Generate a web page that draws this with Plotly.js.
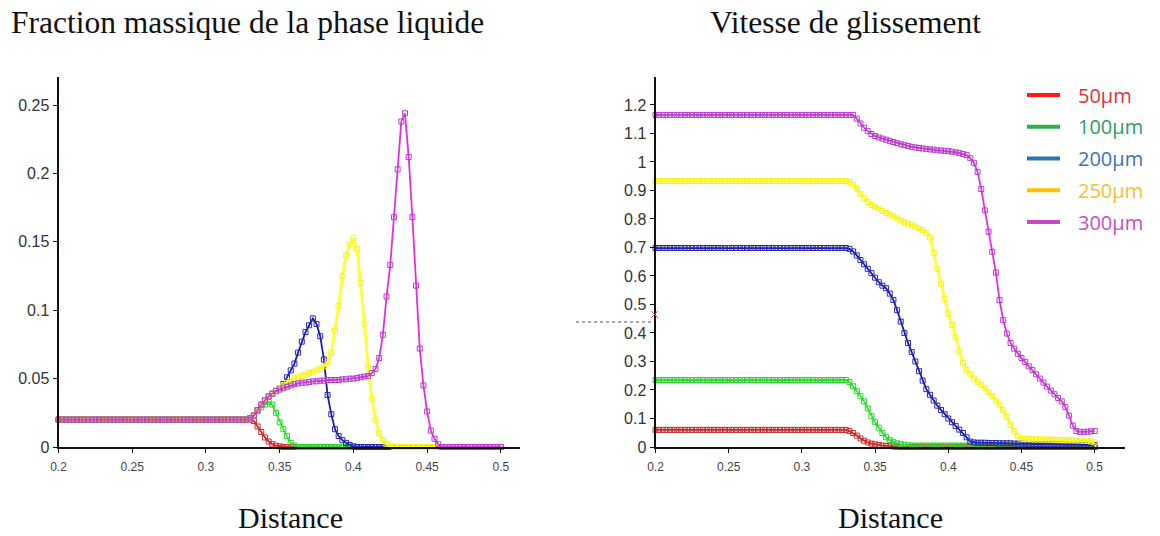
<!DOCTYPE html>
<html>
<head>
<meta charset="utf-8">
<script src="https://cdn.plot.ly/plotly-3.0.1.min.js"></script>
<style>html,body{margin:0;padding:0;background:#fff;}#chart{width:1160px;height:536px;}</style>
</head>
<body>
<div id="chart"></div>
<script>
// ---------- DATA ----------
const seriesNames = ['50µm', '100µm', '200µm', '250µm', '300µm'];

const distance = [
  0.2, 0.2025, 0.205, 0.2075, 0.21, 0.2125, 0.215, 0.2175, 0.22, 0.2225,
  0.225, 0.2275, 0.23, 0.2325, 0.235, 0.2375, 0.24, 0.2425, 0.245, 0.2475,
  0.25, 0.2525, 0.255, 0.2575, 0.26, 0.2625, 0.265, 0.2675, 0.27, 0.2725,
  0.275, 0.2775, 0.28, 0.2825, 0.285, 0.2875, 0.29, 0.2925, 0.295, 0.2975,
  0.3, 0.3025, 0.305, 0.3075, 0.31, 0.3125, 0.315, 0.3175, 0.32, 0.3225,
  0.325, 0.3275, 0.33, 0.3325, 0.335, 0.3375, 0.34, 0.3425, 0.345, 0.3475,
  0.35, 0.3525, 0.355, 0.3575, 0.36, 0.3625, 0.365, 0.3675, 0.37, 0.3725,
  0.375, 0.3775, 0.38, 0.3825, 0.385, 0.3875, 0.39, 0.3925, 0.395, 0.3975,
  0.4, 0.4025, 0.405, 0.4075, 0.41, 0.4125, 0.415, 0.4175, 0.42, 0.4225,
  0.425, 0.4275, 0.43, 0.4325, 0.435, 0.4375, 0.44, 0.4425, 0.445, 0.4475,
  0.45, 0.4525, 0.455, 0.4575, 0.46, 0.4625, 0.465, 0.4675, 0.47, 0.4725,
  0.475, 0.4775, 0.48, 0.4825, 0.485, 0.4875, 0.49, 0.4925, 0.495, 0.4975,
  0.5
];

// Fraction massique de la phase liquide
const fraction50 = [
  0.02,0.02,0.02,0.02,0.02,0.02,0.02,0.02,0.02,0.02,
  0.02,0.02,0.02,0.02,0.02,0.02,0.02,0.02,0.02,0.02,
  0.02,0.02,0.02,0.02,0.02,0.02,0.02,0.02,0.02,0.02,
  0.02,0.02,0.02,0.02,0.02,0.02,0.02,0.02,0.02,0.02,
  0.02,0.02,0.02,0.02,0.02,0.02,0.02,0.02,0.02,0.02,
  0.02,0.02,0.02,0.019,0.015,0.011,0.007,0.004,0.002,0.001,
  0.0005,0,0,0,0,0,0,0,0,0,
  0,0,0,0,0,0,0,0,0,0,
  0,0,0,0,0,0,0,0,0,0,
  0,0,0,0,0,0,0,0,0,0,
  0,0,0,0,0,0,0,0,0,0,
  0,0,0,0,0,0,0,0,0,0,
  0
];
const fraction100 = [
  0.02,0.02,0.02,0.02,0.02,0.02,0.02,0.02,0.02,0.02,
  0.02,0.02,0.02,0.02,0.02,0.02,0.02,0.02,0.02,0.02,
  0.02,0.02,0.02,0.02,0.02,0.02,0.02,0.02,0.02,0.02,
  0.02,0.02,0.02,0.02,0.02,0.02,0.02,0.02,0.02,0.02,
  0.02,0.02,0.02,0.02,0.02,0.02,0.02,0.02,0.02,0.02,
  0.02,0.02,0.021,0.023,0.026,0.029,0.031,0.033,0.031,0.025,
  0.018,0.013,0.008,0.003,0.001,0,0,0,0,0,
  0,0,0,0,0,0,0,0,0,0,
  0,0,0,0,0,0,0,0,0,0,
  0,0,0,0,0,0,0,0,0,0,
  0,0,0,0,0,0,0,0,0,0,
  0,0,0,0,0,0,0,0,0,0,
  0
];
const fraction200 = [
  0.02,0.02,0.02,0.02,0.02,0.02,0.02,0.02,0.02,0.02,
  0.02,0.02,0.02,0.02,0.02,0.02,0.02,0.02,0.02,0.02,
  0.02,0.02,0.02,0.02,0.02,0.02,0.02,0.02,0.02,0.02,
  0.02,0.02,0.02,0.02,0.02,0.02,0.02,0.02,0.02,0.02,
  0.02,0.02,0.02,0.02,0.02,0.02,0.02,0.02,0.02,0.02,
  0.02,0.02,0.021,0.023,0.027,0.031,0.034,0.037,0.039,0.041,
  0.043,0.046,0.051,0.056,0.061,0.069,0.077,0.084,0.089,0.094,
  0.09,0.081,0.064,0.038,0.024,0.013,0.008,0.005,0.003,0.0015,
  0.0005,0,0,0,0,0,0,0,0,0,
  0,0,0,0,0,0,0,0,0,0,
  0,0,0,0,0,0,0,0,0,0,
  0,0,0,0,0,0,0,0,0,0,
  0
];
const fraction250 = [
  0.02,0.02,0.02,0.02,0.02,0.02,0.02,0.02,0.02,0.02,
  0.02,0.02,0.02,0.02,0.02,0.02,0.02,0.02,0.02,0.02,
  0.02,0.02,0.02,0.02,0.02,0.02,0.02,0.02,0.02,0.02,
  0.02,0.02,0.02,0.02,0.02,0.02,0.02,0.02,0.02,0.02,
  0.02,0.02,0.02,0.02,0.02,0.02,0.02,0.02,0.02,0.02,
  0.02,0.02,0.021,0.023,0.027,0.031,0.034,0.037,0.039,0.041,
  0.043,0.045,0.047,0.048,0.05,0.051,0.052,0.053,0.054,0.055,
  0.056,0.057,0.059,0.062,0.069,0.085,0.103,0.125,0.14,0.148,
  0.153,0.145,0.12,0.09,0.058,0.035,0.02,0.01,0.005,0.002,
  0.001,0,0,0,0,0,0,0,0,0,
  0,0,0,0,0,0,0,0,0,0,
  0,0,0,0,0,0,0,0,0,0,
  0
];
const fraction300 = [
  0.02,0.02,0.02,0.02,0.02,0.02,0.02,0.02,0.02,0.02,
  0.02,0.02,0.02,0.02,0.02,0.02,0.02,0.02,0.02,0.02,
  0.02,0.02,0.02,0.02,0.02,0.02,0.02,0.02,0.02,0.02,
  0.02,0.02,0.02,0.02,0.02,0.02,0.02,0.02,0.02,0.02,
  0.02,0.02,0.02,0.02,0.02,0.02,0.02,0.02,0.02,0.02,
  0.02,0.02,0.021,0.023,0.027,0.031,0.034,0.037,0.039,0.041,
  0.042,0.043,0.044,0.045,0.046,0.0465,0.047,0.047,0.0475,0.048,
  0.048,0.0485,0.0485,0.049,0.049,0.049,0.049,0.0495,0.0495,0.05,
  0.05,0.0505,0.051,0.0515,0.052,0.054,0.057,0.065,0.082,0.11,
  0.133,0.168,0.203,0.238,0.244,0.212,0.168,0.118,0.072,0.045,
  0.026,0.012,0.006,0.002,0,0,0,0,0,0,
  0,0,0,0,0,0,0,0,0,0,
  0
];

// Vitesse de glissement
const vitesse50 = [
  0.06,0.06,0.06,0.06,0.06,0.06,0.06,0.06,0.06,0.06,
  0.06,0.06,0.06,0.06,0.06,0.06,0.06,0.06,0.06,0.06,
  0.06,0.06,0.06,0.06,0.06,0.06,0.06,0.06,0.06,0.06,
  0.06,0.06,0.06,0.06,0.06,0.06,0.06,0.06,0.06,0.06,
  0.06,0.06,0.06,0.06,0.06,0.06,0.06,0.06,0.06,0.06,
  0.06,0.06,0.06,0.056,0.049,0.04,0.03,0.022,0.016,0.012,
  0.009,0.007,0.005,0.004,0.003,0.002,0.001,0,0,0,
  0,0,0,0,0,0,0,0,0,0,
  0,0,0,0,0,0,0,0,0,0,
  0,0,0,0,0,0,0,0,0,0,
  0,0,0,0,0,0,0,0,0,0,
  0,0,0,0,0,0,0,0,0,0,
  0
];
const vitesse100 = [
  0.235,0.235,0.235,0.235,0.235,0.235,0.235,0.235,0.235,0.235,
  0.235,0.235,0.235,0.235,0.235,0.235,0.235,0.235,0.235,0.235,
  0.235,0.235,0.235,0.235,0.235,0.235,0.235,0.235,0.235,0.235,
  0.235,0.235,0.235,0.235,0.235,0.235,0.235,0.235,0.235,0.235,
  0.235,0.235,0.235,0.235,0.235,0.235,0.235,0.235,0.235,0.235,
  0.235,0.235,0.235,0.228,0.213,0.196,0.178,0.16,0.135,0.108,
  0.087,0.068,0.049,0.034,0.024,0.018,0.013,0.01,0.008,0.006,
  0.005,0.005,0.005,0.005,0.005,0.005,0.005,0.005,0.005,0.005,
  0.005,0.005,0.005,0.005,0.005,0.005,0.005,0.005,0.005,0.005,
  0.005,0.005,0.005,0.005,0.005,0.005,0.005,0.005,0.005,0.005,
  0.005,0.005,0.005,0.005,0.005,0.005,0.005,0.005,0.005,0.005,
  0.005,0.005,0.005,0.005,0.005,0.005,0.005,0.005,0.005,0.005,
  0.005
];
const vitesse200 = [
  0.698,0.698,0.698,0.698,0.698,0.698,0.698,0.698,0.698,0.698,
  0.698,0.698,0.698,0.698,0.698,0.698,0.698,0.698,0.698,0.698,
  0.698,0.698,0.698,0.698,0.698,0.698,0.698,0.698,0.698,0.698,
  0.698,0.698,0.698,0.698,0.698,0.698,0.698,0.698,0.698,0.698,
  0.698,0.698,0.698,0.698,0.698,0.698,0.698,0.698,0.698,0.698,
  0.698,0.698,0.698,0.695,0.686,0.672,0.656,0.641,0.625,0.61,
  0.594,0.578,0.566,0.557,0.538,0.516,0.48,0.44,0.4,0.365,
  0.333,0.3,0.266,0.233,0.203,0.183,0.163,0.145,0.13,0.115,
  0.1,0.087,0.074,0.061,0.049,0.034,0.019,0.016,0.015,0.015,
  0.015,0.014,0.014,0.014,0.013,0.013,0.013,0.013,0.012,0.012,
  0.012,0.012,0.011,0.011,0.011,0.011,0.01,0.01,0.01,0.01,
  0.009,0.009,0.009,0.009,0.008,0.008,0.008,0.008,0.007,0.007,
  0.007
];
const vitesse250 = [
  0.933,0.933,0.933,0.933,0.933,0.933,0.933,0.933,0.933,0.933,
  0.933,0.933,0.933,0.933,0.933,0.933,0.933,0.933,0.933,0.933,
  0.933,0.933,0.933,0.933,0.933,0.933,0.933,0.933,0.933,0.933,
  0.933,0.933,0.933,0.933,0.933,0.933,0.933,0.933,0.933,0.933,
  0.933,0.933,0.933,0.933,0.933,0.933,0.933,0.933,0.933,0.933,
  0.933,0.933,0.933,0.93,0.922,0.905,0.888,0.874,0.86,0.849,
  0.843,0.836,0.828,0.821,0.815,0.809,0.802,0.795,0.789,0.783,
  0.778,0.773,0.768,0.761,0.752,0.735,0.68,0.625,0.573,0.52,
  0.468,0.428,0.385,0.335,0.295,0.27,0.255,0.24,0.227,0.218,
  0.206,0.193,0.178,0.161,0.148,0.13,0.105,0.078,0.055,0.038,
  0.029,0.028,0.028,0.027,0.027,0.027,0.026,0.026,0.026,0.025,
  0.025,0.025,0.024,0.024,0.024,0.023,0.023,0.022,0.021,0.019,
  0.016
];
const vitesse300 = [
  1.165,1.165,1.165,1.165,1.165,1.165,1.165,1.165,1.165,1.165,
  1.165,1.165,1.165,1.165,1.165,1.165,1.165,1.165,1.165,1.165,
  1.165,1.165,1.165,1.165,1.165,1.165,1.165,1.165,1.165,1.165,
  1.165,1.165,1.165,1.165,1.165,1.165,1.165,1.165,1.165,1.165,
  1.165,1.165,1.165,1.165,1.165,1.165,1.165,1.165,1.165,1.165,
  1.165,1.165,1.165,1.165,1.165,1.152,1.135,1.12,1.108,1.098,
  1.091,1.086,1.082,1.078,1.074,1.07,1.066,1.062,1.059,1.056,
  1.053,1.051,1.049,1.047,1.046,1.044,1.043,1.041,1.04,1.039,
  1.038,1.036,1.034,1.031,1.028,1.024,1.013,0.997,0.965,0.905,
  0.83,0.755,0.685,0.612,0.515,0.445,0.398,0.365,0.345,0.327,
  0.312,0.298,0.283,0.27,0.255,0.24,0.226,0.212,0.198,0.185,
  0.172,0.16,0.14,0.11,0.075,0.056,0.053,0.053,0.054,0.055,
  0.056
];

const xTickVals = [0.2, 0.25, 0.3, 0.35, 0.4, 0.45, 0.5];
const xTickText = ['0.2', '0.25', '0.3', '0.35', '0.4', '0.45', '0.5'];
const fracTickVals = [0, 0.05, 0.1, 0.15, 0.2, 0.25];
const fracTickText = ['0', '0.05', '0.1', '0.15', '0.2', '0.25'];
const vitTickVals = [0, 0.1, 0.2, 0.3, 0.4, 0.5, 0.6, 0.7, 0.8, 0.9, 1, 1.1, 1.2];
const vitTickText = ['0', '0.1', '0.2', '0.3', '0.4', '0.5', '0.6', '0.7', '0.8', '0.9', '1', '1.1', '1.2'];

const titleLeft = 'Fraction massique de la phase liquide';
const titleRight = 'Vitesse de glissement';
const xTitle = 'Distance';

// ---------- STYLE ----------
const lineColors = ['#d42424', '#33e633', '#1c1ca8', '#ffff33', '#e030e0'];
const markerColors = ['#c03030', '#30d030', '#2a2ab8', '#f2f22a', '#b040c8'];
const legendLineColors = ['#ff1a1a', '#2db04c', '#2e72b4', '#ffc000', '#c848c0'];
const legendTextColors = ['#e0303a', '#2aa060', '#3a74b4', '#f0c030', '#c050c0'];

const W = 1160, H = 536;
const px = v => v / W;
const py = v => 1 - v / H;

const fracSeries = [fraction50, fraction100, fraction200, fraction250, fraction300];
const vitSeries = [vitesse50, vitesse100, vitesse200, vitesse250, vitesse300];

const traces = [];
function addTraces(list, xa, ya) {
  list.forEach((vals, i) => {
    traces.push({
      type: 'scatter', mode: 'lines+markers',
      x: distance, y: vals, name: seriesNames[i],
      xaxis: xa, yaxis: ya,
      line: {color: lineColors[i], width: i === 3 ? 2.8 : 1.8},
      marker: {symbol: 'square-open', size: 5, color: markerColors[i], line: {width: 1, color: markerColors[i]}},
      showlegend: false, cliponaxis: false
    });
  });
}
addTraces(fracSeries, 'x', 'y');
addTraces(vitSeries, 'x2', 'y2');

const tickFontX = {family: 'Liberation Sans, Arial, sans-serif', size: 12, color: '#444'};
const tickFontY = {family: 'Liberation Sans, Arial, sans-serif', size: 16, color: '#333'};
const serif = 'Liberation Serif, Times New Roman, serif';

const axisCommon = {
  showgrid: false, zeroline: false, showline: true, linecolor: '#111', linewidth: 2,
  ticks: 'outside', ticklen: 4, tickcolor: '#111', tickwidth: 1, fixedrange: true
};

const yDom = [py(447), py(77)];

const layout = {
  width: W, height: H,
  margin: {l: 0, r: 0, t: 0, b: 0},
  paper_bgcolor: '#fff', plot_bgcolor: 'rgba(0,0,0,0)',
  showlegend: false,
  xaxis: Object.assign({}, axisCommon, {
    domain: [px(58.5), px(520)], range: [0.2, 0.513], anchor: 'y',
    tickvals: xTickVals, ticktext: xTickText, tickfont: tickFontX, ticklabelstandoff: 4
  }),
  yaxis: Object.assign({}, axisCommon, {
    domain: yDom, range: [0, 0.2705], anchor: 'x',
    tickvals: fracTickVals, ticktext: fracTickText, tickfont: tickFontY
  }),
  xaxis2: Object.assign({}, axisCommon, {
    domain: [px(655.5), px(1125)], range: [0.2, 0.5207], anchor: 'y2',
    tickvals: xTickVals, ticktext: xTickText, tickfont: tickFontX, ticklabelstandoff: 4
  }),
  yaxis2: Object.assign({}, axisCommon, {
    domain: yDom, range: [0, 1.298], anchor: 'x2',
    tickvals: vitTickVals, ticktext: vitTickText, tickfont: tickFontY
  }),
  annotations: [
    {text: titleLeft, xref: 'paper', yref: 'paper', x: px(247.5), y: py(23), xanchor: 'center', yanchor: 'middle', showarrow: false, font: {family: serif, size: 31.5, color: '#111'}},
    {text: titleRight, xref: 'paper', yref: 'paper', x: px(845), y: py(23), xanchor: 'center', yanchor: 'middle', showarrow: false, font: {family: serif, size: 31.5, color: '#111'}},
    {text: xTitle, xref: 'paper', yref: 'paper', x: px(290.5), y: py(517), xanchor: 'center', yanchor: 'middle', showarrow: false, font: {family: serif, size: 30, color: '#111'}},
    {text: xTitle, xref: 'paper', yref: 'paper', x: px(890), y: py(517), xanchor: 'center', yanchor: 'middle', showarrow: false, font: {family: serif, size: 30, color: '#111'}}
  ],
  shapes: [
    // dotted marker line left of the right-hand axis
    {type: 'line', xref: 'paper', yref: 'paper', x0: px(576), x1: px(651), y0: py(322), y1: py(322), line: {color: '#555', width: 1, dash: 'dot'}},
    {type: 'line', xref: 'paper', yref: 'paper', x0: px(651), x1: px(658), y0: py(311), y1: py(318), line: {color: '#c06060', width: 1}},
    {type: 'line', xref: 'paper', yref: 'paper', x0: px(651), x1: px(658), y0: py(318), y1: py(311), line: {color: '#c06060', width: 1}}
  ]
};

// legend (drawn as shapes + text)
seriesNames.forEach((name, i) => {
  const yy = 95 + i * 31.75;
  layout.shapes.push({type: 'line', xref: 'paper', yref: 'paper', x0: px(1027), x1: px(1060), y0: py(yy), y1: py(yy), line: {color: legendLineColors[i], width: 4}});
  layout.annotations.push({text: name, xref: 'paper', yref: 'paper', x: px(1076), y: py(yy), xanchor: 'left', yanchor: 'middle', showarrow: false, font: {family: 'Open Sans, Noto Sans, sans-serif', size: 20, color: legendTextColors[i]}});
});

Plotly.newPlot('chart', traces, layout, {displayModeBar: false, staticPlot: true});
</script>
</body>
</html>
